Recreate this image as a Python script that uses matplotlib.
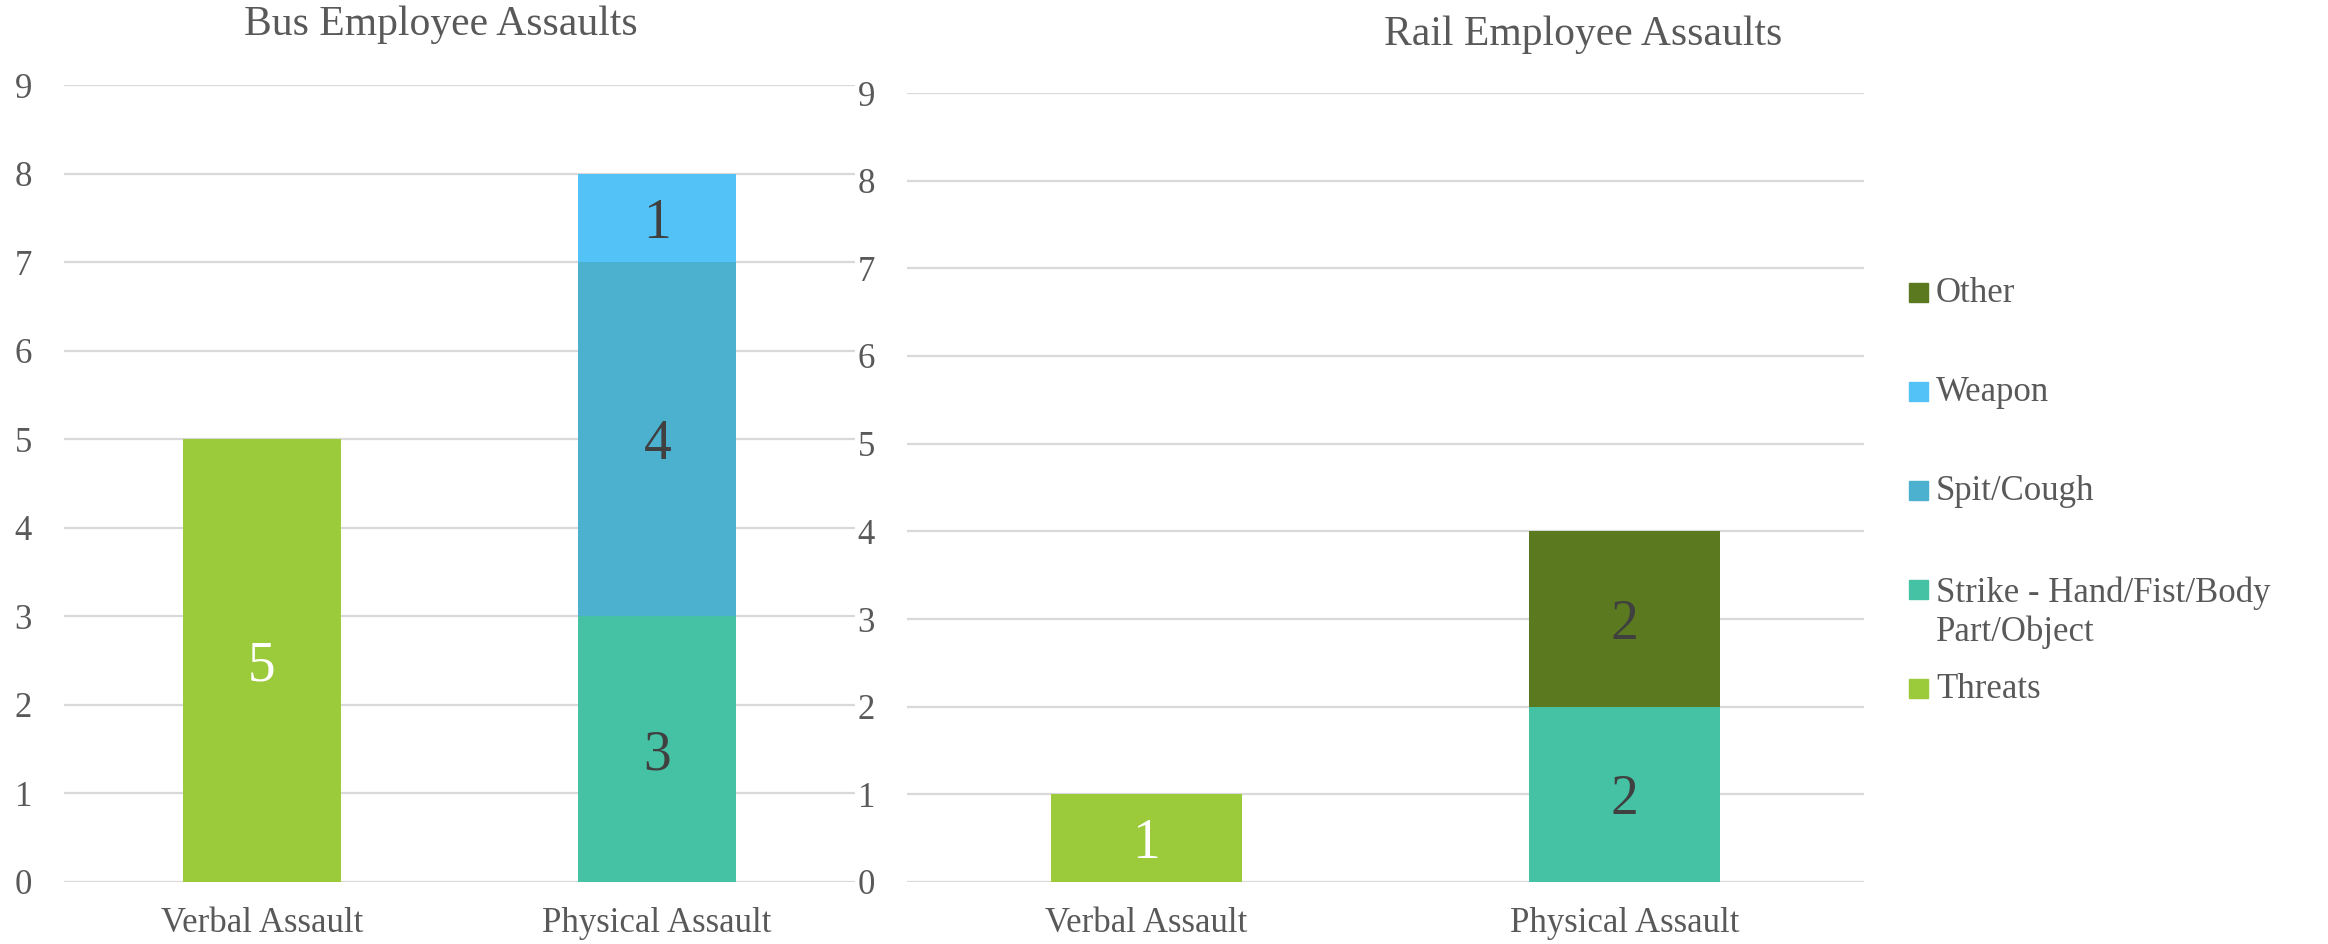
import numpy as np
import matplotlib.pyplot as plt
from matplotlib.patches import Rectangle

plt.rcParams['font.family'] = ['Liberation Serif', 'DejaVu Serif']

# Data
categories = ['Verbal Assault', 'Physical Assault']
series = ['Threats', 'Strike - Hand/Fist/Body\nPart/Object', 'Spit/Cough', 'Weapon', 'Other']
colors = ['#9BCB3B', '#45C2A4', '#4BB1CF', '#53C2F7', '#5B7A1F']
label_colors = ['white', '#404040', '#404040', '#404040', '#404040']

bus_values = {
    'Threats':    [5, 0],
    'Strike':     [0, 3],
    'Spit/Cough': [0, 4],
    'Weapon':     [0, 1],
    'Other':      [0, 0],
}
rail_values = {
    'Threats':    [1, 0],
    'Strike':     [0, 2],
    'Spit/Cough': [0, 0],
    'Weapon':     [0, 0],
    'Other':      [0, 2],
}
y_ticks = list(range(0, 10))

W, H = 2328, 944
fig = plt.figure(figsize=(W / 100, H / 100), dpi=100)
text_color = '#595959'
grid_color = '#D9D9D9'


def px_axes(x0, x1, ytop, ybot):
    return fig.add_axes([x0 / W, (H - ybot) / H, (x1 - x0) / W, (ybot - ytop) / H])


def draw_panel(ax, values):
    x = np.arange(len(categories))
    bottom = np.zeros(len(categories))
    for (name, vals), col, lc in zip(values.items(), colors, label_colors):
        vals = np.array(vals, dtype=float)
        bars = ax.bar(x, vals, width=0.4, bottom=bottom, color=col, zorder=3)
        labels = [str(int(v)) if v > 0 else '' for v in vals]
        texts = ax.bar_label(bars, labels=labels, label_type='center',
                             color=lc, fontsize=40)
        for t in texts:
            t.set_va('center_baseline')
        bottom += vals
    ax.set_xlim(-0.5, len(categories) - 0.5)
    ax.set_ylim(0, 9)
    ax.set_yticks(y_ticks)
    ax.set_xticks(x)
    ax.set_xticklabels(categories)
    ax.tick_params(axis='both', length=0, labelsize=25, colors=text_color)
    ax.tick_params(axis='y', pad=23)
    ax.tick_params(axis='x', pad=18)
    ax.yaxis.grid(True, color=grid_color, linewidth=1.6, zorder=0)
    ax.set_axisbelow(True)
    for s in ax.spines.values():
        s.set_visible(False)


ax1 = px_axes(64, 855, 85, 882)
draw_panel(ax1, bus_values)
ax2 = px_axes(907, 1864, 93, 882)
draw_panel(ax2, rail_values)

fig.text(441 / W, 1 - 35 / H, 'Bus Employee Assaults', ha='center',
         va='baseline', fontsize=30, color=text_color)
fig.text(1583 / W, 1 - 45 / H, 'Rail Employee Assaults', ha='center',
         va='baseline', fontsize=30, color=text_color)

# Legend (top entry first, like the original); square sits on the first line
line_px = 42
for i, (name, col) in enumerate(zip(series[::-1], colors[::-1])):
    yc = 292 + i * 99
    extra = name.count('\n') * line_px
    fig.add_artist(Rectangle((1909 / W, 1 - (yc + 9.5) / H), 19 / W, 19 / H,
                             transform=fig.transFigure, color=col))
    fig.text(1936 / W, 1 - (yc + 10 + extra) / H, name, ha='left', va='baseline',
             fontsize=25, color=text_color, linespacing=1.2)

fig.savefig('out.png', dpi=100)
